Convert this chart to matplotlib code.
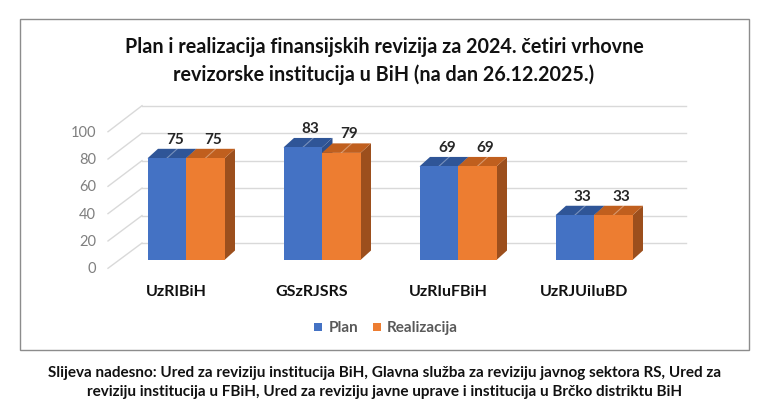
import matplotlib.pyplot as plt
from matplotlib.patches import Rectangle

# data
categories = ["UzRIBiH", "GSzRJSRS", "UzRIuFBiH", "UzRJUiIuBD"]
plan = [75, 83, 69, 33]
realizacija = [75, 79, 69, 33]
yticks = [0, 20, 40, 60, 80, 100]

title = ("Plan i realizacija finansijskih revizija za 2024. četiri vrhovne\n"
         "revizorske institucija u BiH (na dan 26.12.2025.)")
caption = ("Slijeva nadesno: Ured za reviziju institucija BiH, Glavna služba za reviziju javnog sektora RS, Ured za\n"
           "reviziju institucija u FBiH, Ured za reviziju javne uprave i institucija u Brčko distriktu BiH")

plt.rcParams['font.family'] = ['Lato', 'DejaVu Sans']

W, H = 768, 410
PX_X = 136.0      # pixels per category step
PX_Y = 1.356      # pixels per value unit
X0, Y0 = 186, 261  # pixel position of first group centre / value 0


def dx(px):
    return px / PX_X


def dy(px):
    return px / PX_Y


fig = plt.figure(figsize=(W / 100, H / 100), dpi=100)
ax = fig.add_axes([0, 0, 1, 1])
ax.set_xlim(-X0 / PX_X, (W - X0) / PX_X)
ax.set_ylim((Y0 - H) / PX_Y, Y0 / PX_Y)
ax.axis('off')

# chart frame
fig.add_artist(Rectangle((20 / W, 1 - 351 / H), 729 / W, 331 / H,
                         transform=fig.transFigure, fill=False,
                         edgecolor='#8c8c8c', linewidth=1.0))

# 3d walls: side diagonals and back-wall gridlines
grid_c = '#d9d9d9'
for v in yticks:
    yl = v * 1.007 - 6.1
    yb = v * 1.013 + 12.5
    ax.plot([dx(108 - X0), dx(142 - X0)], [yl, yb], color=grid_c, lw=1.0, zorder=1)
    ax.plot([dx(142 - X0), dx(686 - X0)], [yb, yb], color=grid_c, lw=1.0, zorder=1)
    ax.text(dx(96 - X0), yl, str(v), ha='right', va='center',
            fontsize=10.5, color='#7f7f7f')

w = dx(38.5)
ddx, ddy = dx(10.5), dy(9.5)

series = [
    (plan, -w / 2, '#4472c4', '#2f5597', '#2c4f8c'),
    (realizacija, w / 2, '#ed7d31', '#c05f1e', '#9c4f1d'),
]

z = 2
for i, cat in enumerate(categories):
    for vals, off, front, top, side in series:
        v = vals[i]
        x0 = i + off - w / 2
        x1 = i + off + w / 2
        ax.fill([x1, x1 + ddx, x1 + ddx, x1], [0, ddy, v + ddy, v],
                color=side, lw=0, zorder=z)
        ax.fill([x0, x0 + ddx, x1 + ddx, x1], [v, v + ddy, v + ddy, v],
                color=top, lw=0, zorder=z)
        ax.plot([x0 + w / 2, x0 + w / 2 + ddx], [v, v + ddy],
                color='#ffffff', alpha=0.35, lw=0.8, zorder=z + 0.5)
        ax.bar(i + off, v, width=w, color=front, lw=0, zorder=z + 0.6)
        ax.text(i + off + dx(8), v + ddy + dy(3), str(v), ha='center',
                va='bottom', fontsize=11, fontweight='bold', color='#262626',
                zorder=10)
        z += 1
    ax.text(i - dx(10), dy(Y0 - 292), cat, ha='center', va='center',
            fontsize=11.5, fontweight='bold', color='#111111')

# legend
fig.add_artist(Rectangle((314 / W, 1 - 332 / H), 8 / W, 8 / H,
                         transform=fig.transFigure, color='#4472c4', lw=0))
fig.text(329 / W, 1 - 328 / H, "Plan", ha='left', va='center',
         fontsize=11, fontweight='bold', color='#595959')
fig.add_artist(Rectangle((373 / W, 1 - 332 / H), 8 / W, 8 / H,
                         transform=fig.transFigure, color='#ed7d31', lw=0))
fig.text(387 / W, 1 - 328 / H, "Realizacija", ha='left', va='center',
         fontsize=11, fontweight='bold', color='#595959')

fig.text(384 / W, 1 - 61 / H, title, ha='center', va='center',
         fontsize=14.2, fontweight='bold', color='#111111', linespacing=1.42)
fig.text(385 / W, 1 - 382.5 / H, caption, ha='center', va='center',
         fontsize=11, fontweight='bold', color='#111111', linespacing=1.38)

fig.savefig('out.png', dpi=100)
